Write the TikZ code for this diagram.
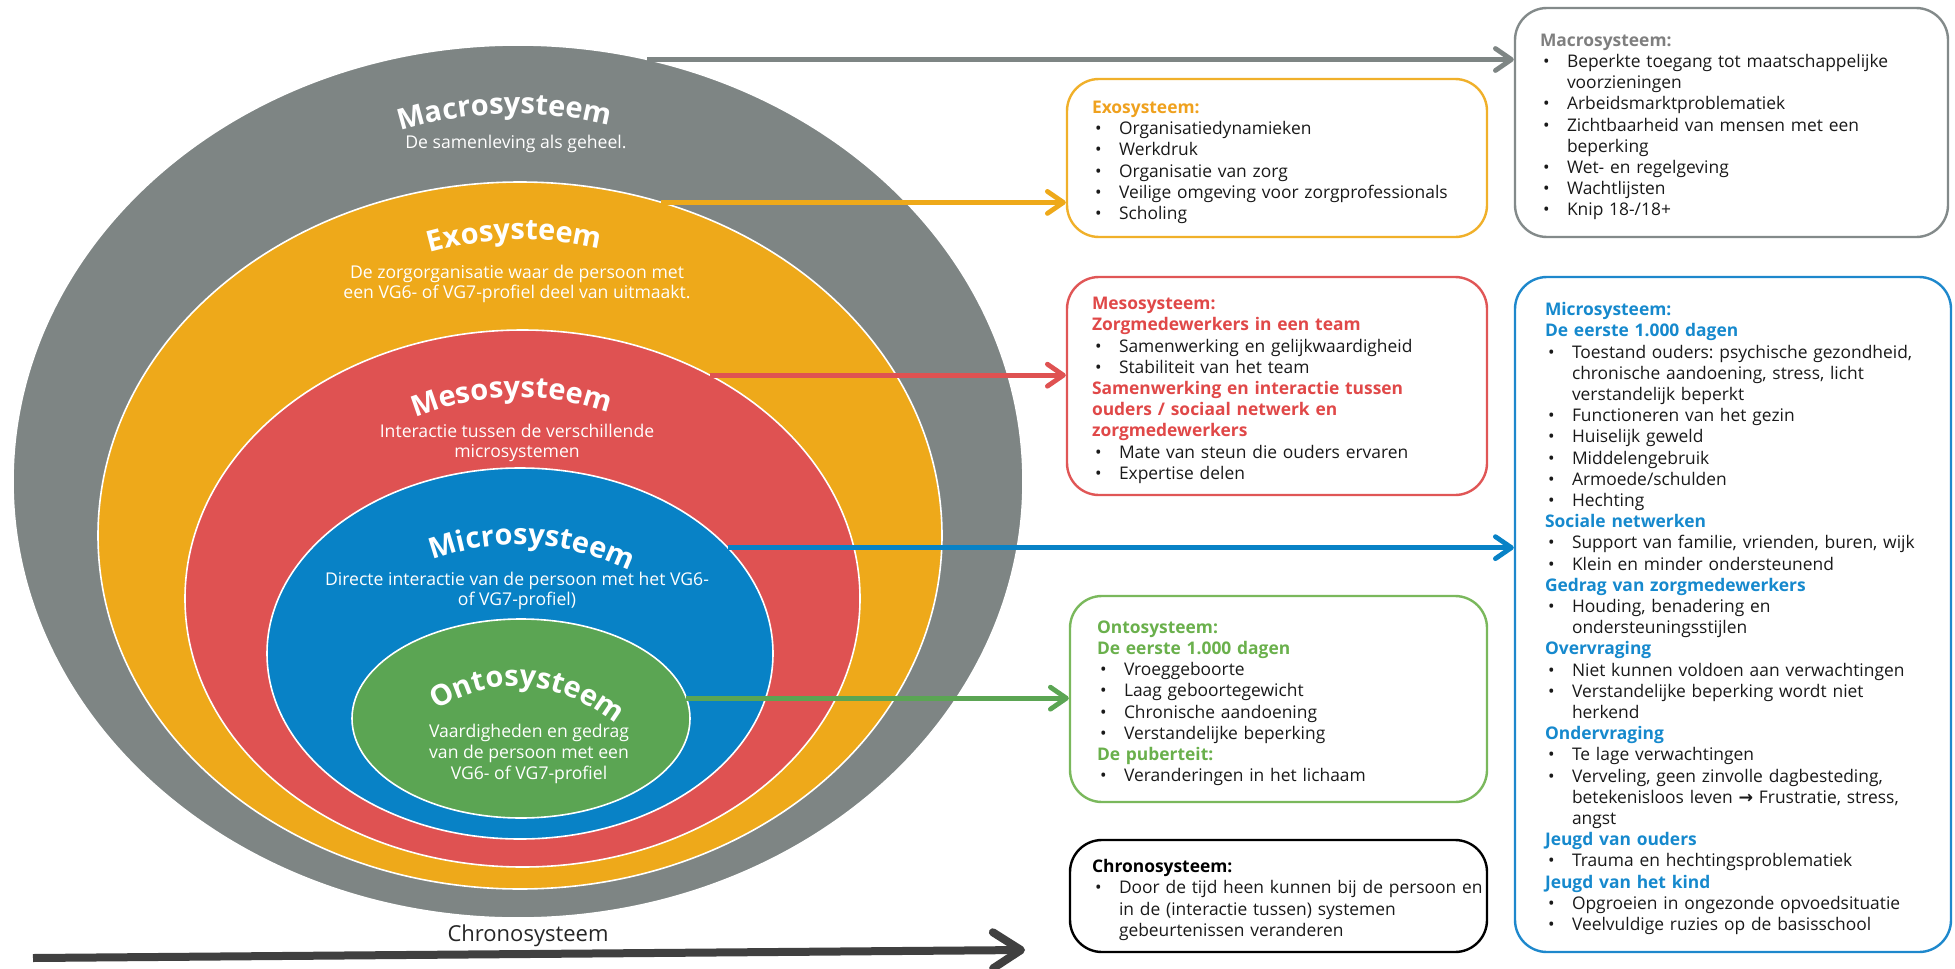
\documentclass[tikz,border=0pt]{standalone}
\usepackage{fontspec}
\setmainfont{Open Sans}
\newfontfamily\symfont{DejaVu Sans}
\usepackage{xcolor}
\usetikzlibrary{arrows.meta, shapes.geometric, decorations.text, positioning}

\definecolor{macrogray}{HTML}{7E8584}
\definecolor{exoorange}{HTML}{EEA91A}
\definecolor{mesored}{HTML}{DF5252}
\definecolor{microblue}{HTML}{0882C6}
\definecolor{ontogreen}{HTML}{5BA553}
\definecolor{chronodark}{HTML}{404040}
\definecolor{macroline}{HTML}{838A8A}
\definecolor{exoline}{HTML}{F0B02A}
\definecolor{mesoline}{HTML}{E05656}
\definecolor{microline}{HTML}{1E88CC}
\definecolor{ontoline}{HTML}{7AB85C}
\definecolor{macrohead}{HTML}{7F7F7F}
\definecolor{exohead}{HTML}{EFA11E}
\definecolor{mesohead}{HTML}{E04848}
\definecolor{microhead}{HTML}{1689CD}
\definecolor{ontohead}{HTML}{6AB04C}

\frenchspacing
\newcommand{\ringtitle}{\fontsize{14.5pt}{16pt}\selectfont\bfseries}
\newcommand{\itm}[1]{\par\noindent\hangindent=13.5pt\hangafter=1\makebox[13.5pt][l]{\hspace{1.5pt}\textbullet}#1\par}
\newcommand{\hdr}[2]{\par\noindent{\bfseries\color{#1}#2}\par}

\begin{document}
\begin{tikzpicture}[x=0.5pt, y=-0.5pt,
    ring/.style={ellipse, fill=#1, draw=white, line width=0.8pt, inner sep=0pt, outer sep=0pt},
    ringtext/.style={text=white, align=center, font=\fontsize{8.8pt}{10.3pt}\selectfont},
    ringname/.style={decorate, decoration={text along path, text={#1}, text align=center, text color=white}},
    sysbox/.style={draw=#1, line width=1.2pt, rounded corners=16pt, align=left, inner ysep=0pt,
        text=black!90, font=\fontsize{8.7pt}{10.6pt}\selectfont},
    sysarrow/.style={draw=#1, line width=2.4pt, -{Straight Barb[length=8pt, width=11pt, round]}}]

    \useasboundingbox (0,0) rectangle (1955,969);

    % Rings
    \node[ring=macrogray, minimum width=505pt, minimum height=436.5pt] (macroring) at (518,481.5) {};
    \node[ring=exoorange, minimum width=422pt, minimum height=353.5pt] (exoring) at (520,535.5) {};
    \node[ring=mesored, minimum width=337.5pt, minimum height=268.5pt] (mesoring) at (522.5,598.5) {};
    \node[ring=microblue, minimum width=253pt, minimum height=185.5pt] (microring) at (520,653.5) {};
    \node[ring=ontogreen, minimum width=169pt, minimum height=99.5pt] (ontoring) at (521,718.5) {};

    % Ring names
    \path[ringname={|\ringtitle|Macrosysteem}] (380,138) .. controls (463.3,108) and (546.7,106) .. (630,131);
    \path[ringname={|\ringtitle|Exosysteem}] (410,259) .. controls (480,235) and (550,233.5) .. (620,254);
    \path[ringname={|\ringtitle|Mesosysteem}] (397,426) .. controls (473.7,390) and (550.3,388) .. (627,420);
    \path[ringname={|\ringtitle|Microsysteem}] (421,564.7) .. controls (494.3,534.4) and (567.7,538.4) .. (641,576.7);
    \path[ringname={|\ringtitle|Ontosysteem}] (426,717) .. controls (492.7,671) and (559.3,676) .. (626,732);

    \node[ringtext] (macrosub) at (516,144) {De samenleving als geheel.};
    \node[ringtext] (exosub) at (517,284) {De zorgorganisatie waar de persoon met\\een VG6- of VG7-profiel deel van uitmaakt.};
    \node[ringtext] (mesosub) at (517,443) {Interactie tussen de verschillende\\microsystemen};
    \node[ringtext] (microsub) at (517,591) {Directe interactie van de persoon met het VG6-\\of VG7-profiel)};
    \node[ringtext] (ontosub) at (529,754) {Vaardigheden en gedrag\\van de persoon met een\\VG6- of VG7-profiel};

    % Boxes
    \node[sysbox=macroline, minimum width=216.5pt, minimum height=114.5pt, text width=191.5pt, inner xsep=12.5pt] (macrobox) at (1731.5,122.5) {%
        \hdr{macrohead}{Macrosysteem:}
        \itm{Beperkte toegang tot maatschappelijke\newline voorzieningen}
        \itm{Arbeidsmarktproblematiek}
        \itm{Zichtbaarheid van mensen met een\newline beperking}
        \itm{Wet- en regelgeving}
        \itm{Wachtlijsten}
        \itm{Knip 18-/18+}};
    \node[sysbox=exoline, minimum width=210pt, minimum height=79pt, text width=185pt, inner xsep=12.5pt] (exobox) at (1277,158) {%
        \hdr{exohead}{Exosysteem:}
        \itm{Organisatiedynamieken}
        \itm{Werkdruk}
        \itm{Organisatie van zorg}
        \itm{Veilige omgeving voor zorgprofessionals}
        \itm{Scholing}};
    \node[sysbox=mesoline, minimum width=210pt, minimum height=109pt, text width=185pt, inner xsep=12.5pt] (mesobox) at (1277,386) {%
        \hdr{mesohead}{Mesosysteem:}
        \hdr{mesohead}{Zorgmedewerkers in een team}
        \itm{Samenwerking en gelijkwaardigheid}
        \itm{Stabiliteit van het team}
        \hdr{mesohead}{Samenwerking en interactie tussen\newline ouders / sociaal netwerk en\newline zorgmedewerkers}
        \itm{Mate van steun die ouders ervaren}
        \itm{Expertise delen}};
    \node[sysbox=microline, minimum width=218pt, minimum height=337.5pt, text width=188pt, inner xsep=15pt] (microbox) at (1733,614.5) {%
        \hdr{microhead}{Microsysteem:}
        \hdr{microhead}{De eerste 1.000 dagen}
        \itm{Toestand ouders: psychische gezondheid,\newline chronische aandoening, stress, licht\newline verstandelijk beperkt}
        \itm{Functioneren van het gezin}
        \itm{Huiselijk geweld}
        \itm{Middelengebruik}
        \itm{Armoede/schulden}
        \itm{Hechting}
        \hdr{microhead}{Sociale netwerken}
        \itm{Support van familie, vrienden, buren, wijk}
        \itm{Klein en minder ondersteunend}
        \hdr{microhead}{Gedrag van zorgmedewerkers}
        \itm{Houding, benadering en\newline ondersteuningsstijlen}
        \hdr{microhead}{Overvraging}
        \itm{Niet kunnen voldoen aan verwachtingen}
        \itm{Verstandelijke beperking wordt niet\newline herkend}
        \hdr{microhead}{Ondervraging}
        \itm{Te lage verwachtingen}
        \itm{Verveling, geen zinvolle dagbesteding,\newline betekenisloos leven {\symfont\bfseries →} Frustratie, stress,\newline angst}
        \hdr{microhead}{Jeugd van ouders}
        \itm{Trauma en hechtingsproblematiek}
        \hdr{microhead}{Jeugd van het kind}
        \itm{Opgroeien in ongezonde opvoedsituatie}
        \itm{Veelvuldige ruzies op de basisschool}};
    \node[sysbox=ontoline, minimum width=208.5pt, minimum height=103pt, text width=181.5pt, inner xsep=13.5pt] (ontobox) at (1278.5,699) {%
        \hdr{ontohead}{Ontosysteem:}
        \hdr{ontohead}{De eerste 1.000 dagen}
        \itm{Vroeggeboorte}
        \itm{Laag geboortegewicht}
        \itm{Chronische aandoening}
        \itm{Verstandelijke beperking}
        \hdr{ontohead}{De puberteit:}
        \itm{Veranderingen in het lichaam}};
    \node[sysbox=black, minimum width=208.5pt, minimum height=56pt, text width=186.5pt, inner xsep=11pt] (chronobox) at (1278.5,896) {%
        \hdr{black}{Chronosysteem:}
        \itm{\mbox{Door de tijd heen kunnen bij de persoon en}\newline in de (interactie tussen) systemen\newline gebeurtenissen veranderen}};

    % Arrows
    \draw[sysarrow=macrogray] (macroring.73) -- (macroring.73 -| macrobox.west);
    \draw[sysarrow=exoorange] (exoring.67) -- (exoring.67 -| exobox.west);
    \draw[sysarrow=mesored] (mesoring.50) -- (mesoring.50 -| mesobox.west);
    \draw[sysarrow=microblue] (microring.27) -- (microring.27 -| microbox.west);
    \draw[sysarrow=ontogreen] (ontoring.7) -- (ontoring.7 -| ontobox.west);

    % Time axis
    \coordinate (tstart) at (33,958);
    \coordinate (tend) at (1025,950);
    \draw[chronodark, line width=4pt, -{Straight Barb[length=14pt, width=18pt, round]}] (tstart) -- (tend);
    \node[font=\fontsize{11pt}{13pt}\selectfont, text=black!85] (chronolabel) at (528,936) {Chronosysteem};
\end{tikzpicture}
\end{document}
